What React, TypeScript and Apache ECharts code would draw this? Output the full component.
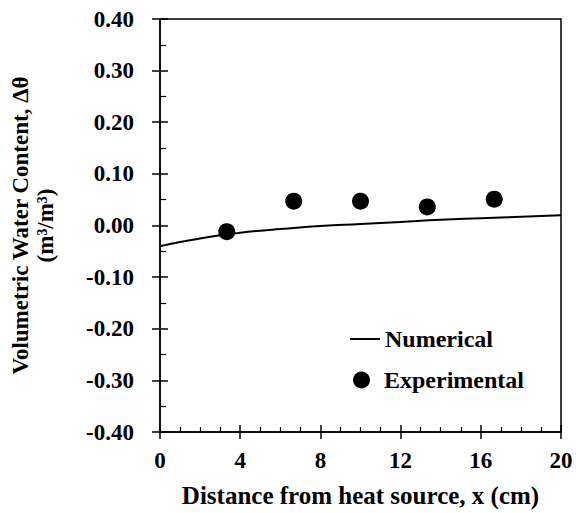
import React, { useEffect, useRef } from "react";
import * as echarts from "echarts";

const numericalX = [0, 1, 2, 3, 4, 5, 6, 8, 10, 12, 14, 16, 18, 20];
const numericalY = [-0.04, -0.032, -0.025, -0.019, -0.014, -0.01, -0.007, -0.001, 0.003, 0.007, 0.011, 0.014, 0.017, 0.02];
const experimentalX = [3.33, 6.67, 10, 13.33, 16.67];
const experimentalY = [-0.012, 0.047, 0.047, 0.036, 0.051];

const FONT = "'Liberation Serif', 'Times New Roman', serif";

export default function App() {
  const ref = useRef<HTMLDivElement>(null);
  useEffect(() => {
    if (!ref.current) return;
    const chart = echarts.init(ref.current, undefined, { renderer: "svg" });
    const txt = { fontFamily: FONT, fontWeight: "bold" as const, color: "#000", fontSize: 23 };
    const yBase = { type: "value" as const, min: -0.4, max: 0.4, interval: 0.1, position: "left" as const };
    const xBase = { type: "value" as const, min: 0, max: 20, interval: 4, position: "bottom" as const };
    chart.setOption({
      animation: false,
      backgroundColor: "#fff",
      grid: { left: 154, right: 15, top: 19, bottom: 81, show: true, borderColor: "#000", borderWidth: 1.5, backgroundColor: "transparent" },
      xAxis: [
        {
          ...xBase,
          name: "Distance from heat source, x (cm)",
          nameLocation: "middle",
          nameGap: 51,
          nameTextStyle: { ...txt, fontSize: 25 },
          axisLine: { show: true, onZero: false, lineStyle: { color: "#000", width: 1.5 } },
          axisTick: { show: true, inside: false, length: 7, lineStyle: { color: "#000", width: 1.5 } },
          axisLabel: { ...txt, margin: 17 },
          splitLine: { show: false },
        },
        {
          ...xBase,
          axisLine: { show: false, onZero: false },
          axisTick: { show: true, inside: true, length: 7, lineStyle: { color: "#000", width: 1.5 } },
          minorTick: { show: true, splitNumber: 4, length: 5, lineStyle: { color: "#000", width: 1.2 } },
          axisLabel: { show: false },
          splitLine: { show: false },
        },
      ],
      yAxis: [
        {
          ...yBase,
          name: "Volumetric Water Content, Δθ\n(m³/m³)",
          nameLocation: "middle",
          nameRotate: 90,
          nameGap: 102,
          nameTextStyle: { ...txt, fontSize: 23, lineHeight: 25 },
          axisLine: { show: true, onZero: false, lineStyle: { color: "#000", width: 1.5 } },
          axisTick: { show: true, inside: false, length: 8, lineStyle: { color: "#000", width: 1.5 } },
          axisLabel: { ...txt, margin: 26, formatter: (v: number) => v.toFixed(2) },
          splitLine: { show: false },
        },
        {
          ...yBase,
          axisLine: { show: false, onZero: false },
          axisTick: { show: true, inside: true, length: 8, lineStyle: { color: "#000", width: 1.5 } },
          minorTick: { show: true, splitNumber: 2, length: 6, lineStyle: { color: "#000", width: 1.2 } },
          axisLabel: { show: false },
          splitLine: { show: false },
        },
      ],
      legend: [
        {
          data: [{ name: "Numerical", icon: "rect" }],
          left: 350,
          top: 327,
          padding: 0,
          itemWidth: 30,
          itemHeight: 2,
          textStyle: { ...txt, fontSize: 24 },
          selectedMode: false,
        },
        {
          data: [{ name: "Experimental", icon: "circle" }],
          left: 353,
          top: 368,
          padding: 0,
          itemWidth: 17,
          itemHeight: 17,
          textStyle: { ...txt, fontSize: 24, padding: [0, 0, 0, 9] },
          selectedMode: false,
        },
      ],
      series: [
        {
          name: "Numerical",
          type: "line",
          smooth: true,
          symbol: "none",
          data: numericalX.map((x, i) => [x, numericalY[i]]),
          lineStyle: { color: "#000", width: 2 },
          itemStyle: { color: "#000" },
        },
        {
          name: "Experimental",
          type: "scatter",
          symbol: "circle",
          symbolSize: 17,
          data: experimentalX.map((x, i) => [x, experimentalY[i]]),
          itemStyle: { color: "#000", opacity: 1 },
        },
      ],
    });
    return () => chart.dispose();
  }, []);
  return <div ref={ref} style={{ width: 576, height: 513, position: "absolute", left: 0, top: 0 }} />;
}
